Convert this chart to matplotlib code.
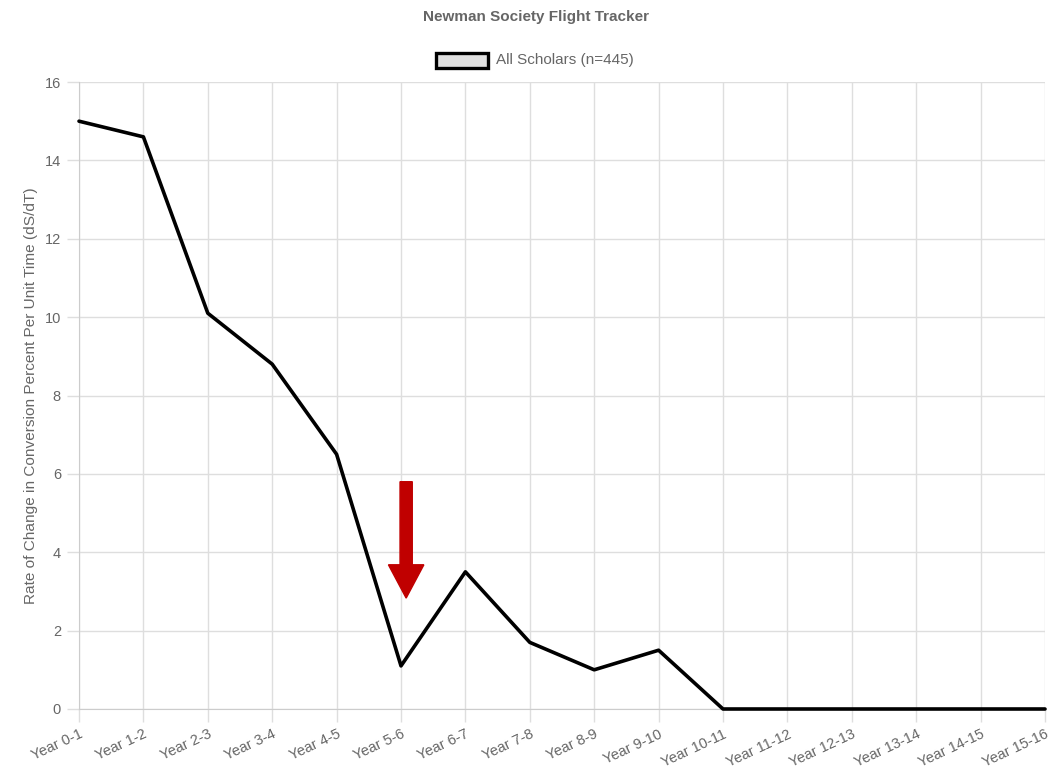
import matplotlib
matplotlib.use('Agg')
import matplotlib.pyplot as plt
import matplotlib.patches as mpatches

# Chart data
periods = ['Year 0-1', 'Year 1-2', 'Year 2-3', 'Year 3-4', 'Year 4-5', 'Year 5-6',
           'Year 6-7', 'Year 7-8', 'Year 8-9', 'Year 9-10', 'Year 10-11',
           'Year 11-12', 'Year 12-13', 'Year 13-14', 'Year 14-15', 'Year 15-16']
rate_all = [15.0, 14.6, 10.1, 8.8, 6.5, 1.1, 3.5, 1.7, 1.0, 1.5,
            0, 0, 0, 0, 0, 0]
y_ticks = [0, 2, 4, 6, 8, 10, 12, 14, 16]
series_label = 'All Scholars (n=445)'
title = 'Newman Society Flight Tracker'
y_label = 'Rate of Change in Conversion Percent Per Unit Time (dS/dT)'

plt.rcParams['font.family'] = ['Liberation Sans', 'DejaVu Sans']

W, H = 1051, 778
fig = plt.figure(figsize=(W / 100, H / 100), dpi=100)
ax = fig.add_axes([79 / W, 1 - 709 / H, (1045 - 79) / W, (709 - 82) / H])

grid_c = '#dedede'
text_c = '#666666'

x = list(range(len(periods)))
ax.plot(x, rate_all, color='black', lw=2.6, solid_joinstyle='round',
        solid_capstyle='round', clip_on=False, zorder=5)

ax.set_xlim(0, len(periods) - 1)
ax.set_ylim(0, 16)
ax.set_xticks(x)
ax.set_xticklabels(periods, rotation=25, ha='right', rotation_mode='anchor',
                   fontsize=10.5, color=text_c)
ax.set_yticks(y_ticks)
ax.set_yticklabels([str(v) for v in y_ticks], fontsize=10.5, color=text_c)
ax.tick_params(axis='both', length=9, width=1, color=grid_c, pad=4)
ax.grid(True, color=grid_c, lw=1)
ax.set_axisbelow(True)
for s in ax.spines.values():
    s.set_visible(False)
ax.spines['left'].set_visible(True)
ax.spines['bottom'].set_visible(True)
ax.spines['left'].set_color('#cccccc')
ax.spines['bottom'].set_color('#cccccc')

ax.set_ylabel(y_label, fontsize=11.1, color=text_c, labelpad=5)

# red arrow pointing at the dip
arrow = mpatches.FancyArrow(5.08, 5.8, 0, -2.97, width=0.19, head_width=0.55,
                            head_length=0.85, length_includes_head=True,
                            color='#c00000', zorder=6)
ax.add_patch(arrow)

# title and legend
fig.text(536 / W, 1 - 17.5 / H, title, ha='center', va='center',
         fontsize=11, fontweight='bold', color=text_c)
fig.patches.append(mpatches.Rectangle((436 / W, 1 - 68 / H), 52 / W, 15 / H,
                                      transform=fig.transFigure, facecolor='#e0e0e0',
                                      edgecolor='black', lw=2.4))
fig.text(496 / W, 1 - 60 / H, series_label, ha='left', va='center',
         fontsize=11, color=text_c)

fig.savefig('out.png', dpi=100)
